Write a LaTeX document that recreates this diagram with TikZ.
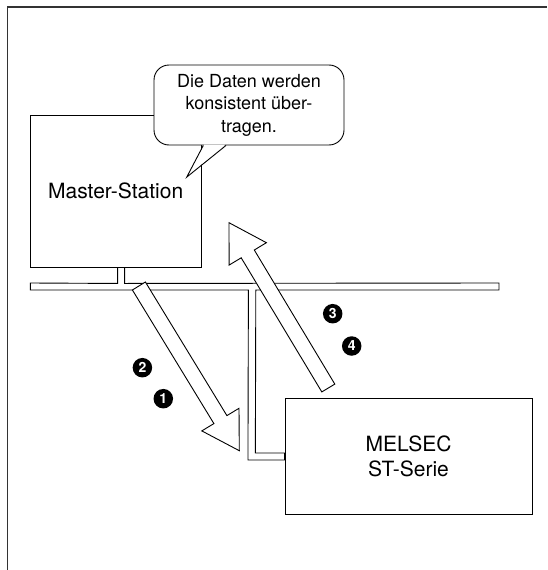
\documentclass[tikz,border=0pt]{standalone}
\usepackage{fontspec}
\setmainfont{TeX Gyre Heros}
\usetikzlibrary{calc}
\begin{document}
\begin{tikzpicture}[x=1pt,y=-1pt,
  box/.style={draw, line width=0.9pt, fill=white, inner sep=0pt, align=center,
    font=\fontsize{21}{24.4}\selectfont},
  outl/.style={draw, line width=0.9pt, line join=miter, fill=white},
  num/.style={circle, fill=black, text=white, minimum size=19.5pt, inner sep=0pt,
    font=\fontsize{14}{14}\selectfont\bfseries}]
\useasboundingbox (0,0) rectangle (547,570);
% frame
\draw[line width=1.6pt, black!80] (7.3,570) -- (7.3,7) -- (547,7);
% stations
\node[box, minimum width=170.6pt, minimum height=152pt] (master) at (115.7,191) {Master-Station};
\node[box, minimum width=247pt, minimum height=116.4pt] (melsec) at (408.5,456.5) {MELSEC\\ST-Serie};
% bus with drops
\coordinate (busW) at (30.4,286.5);
\coordinate (busE) at (499,286.5);
\draw[outl] ($(busW)+(0,-3.5)$) -- ($(master.south)+(1.9,16)$) -- ($(master.south)+(1.9,0)$)
  -- ($(master.south)+(8.9,0)$) -- ($(master.south)+(8.9,16)$) -- ($(busE)+(0,-3.5)$)
  -- ($(busE)+(0,3.5)$) -- (255.8,290) -- ($(melsec.west)+(-29.2,-3.5)$) -- ($(melsec.west)+(0,-3.5)$)
  -- ($(melsec.west)+(0,3.5)$) -- ($(melsec.west)+(-36.6,3.5)$) -- (248.4,290) -- ($(busW)+(0,3.5)$) -- cycle;
% callout
\node[draw, line width=0.9pt, fill=white, rounded corners=15pt, minimum width=190pt,
  minimum height=80pt, inner sep=0pt, align=center, font=\fontsize{18}{22.5}\selectfont]
  (bubble) at (249,105) {Die Daten werden\\konsistent über-\\tragen.};
\coordinate (tip) at ($(bubble.south)+(-62.3,31.7)$);
\fill[white] ($(bubble.south)+(-44.9,-0.8)$) -- (tip) -- ($(bubble.south)+(-23.8,-0.8)$) -- cycle;
\draw[line width=0.9pt, line join=miter] ($(bubble.south)+(-45.7,0)$) -- (tip) -- ($(bubble.south)+(-23,0)$);
% arrows
\draw[outl] (145.4,282.0) -- (226.9,415.6) -- (239.0,408.3) -- (239.3,450.7) -- (201.8,430.9)
  -- (213.9,423.6) -- (132.4,290.0) -- cycle;
\draw[outl] (334.8,384.1) -- (254.3,250.0) -- (266.4,242.7) -- (229.0,222.7) -- (229.1,265.1)
  -- (241.2,257.8) -- (321.8,391.9) -- cycle;
% numbers
\node[num] (n2) at (142.4,367.7) {2};
\node[num] (n1) at (163.3,398.7) {1};
\node[num] (n3) at (332.7,313.7) {3};
\node[num] (n4) at (351.7,346) {4};
\end{tikzpicture}
\end{document}
